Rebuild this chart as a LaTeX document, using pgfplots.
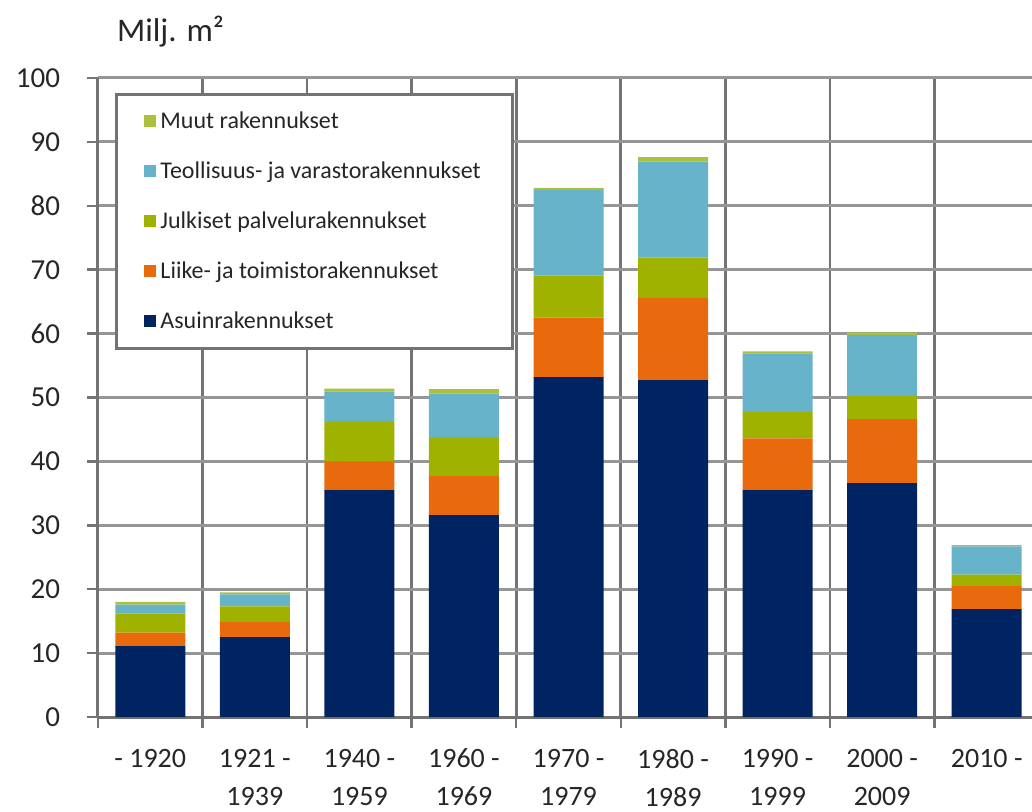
\documentclass[border=0pt]{standalone}
\usepackage{pgfplots}
\pgfplotsset{compat=1.18}
\usepackage{fontspec}
\setmainfont{Carlito}
\definecolor{asuin}{RGB}{0,35,98}
\definecolor{liike}{RGB}{233,106,12}
\definecolor{julk}{RGB}{160,178,0}
\definecolor{teoll}{RGB}{103,179,202}
\definecolor{muut}{RGB}{172,192,60}
\definecolor{hgrid}{RGB}{150,150,150}
\definecolor{vgrid}{RGB}{115,115,115}
\begin{document}
\begin{tikzpicture}
\useasboundingbox (-49bp,-47.5bp) rectangle (467bp,358.5bp);
\clip (-49bp,-47.5bp) rectangle (467bp,358.5bp);
\begin{axis}[
  scale only axis, width=470.5bp, height=319.5bp,
  xmin=-0.5, xmax=8.5, ymin=0, ymax=100,
  ybar stacked, bar width=35bp,
  axis x line*=bottom, axis y line*=left,
  axis line style={draw=vgrid, line width=1.5bp},
  xtick={-0.5,0.5,...,8.5}, xticklabels={},
  extra x ticks={0,1,2,3,4,5,6,7,8},
  extra x tick labels={{- 1920},{1921 -\\1939},{1940 -\\1959},{1960 -\\1969},{1970 -\\1979},{1980 -\\1989},{1990 -\\1999},{2000 -\\2009},{2010 -}},
  extra x tick style={major tick length=0pt, grid=none},
  ytick={0,10,...,100},
  tick align=outside, major tick length=5.5bp,
  tick style={draw=vgrid, line width=1.2bp},
  xmajorgrids, ymajorgrids,
  x grid style={draw=vgrid, line width=1.3bp},
  y grid style={draw=hgrid, line width=1.5bp},
  /pgf/number format/assume math mode=true,
  yticklabel style={font=\fontsize{14.5bp}{17bp}\selectfont, text=black!85, xshift=-10bp},
  xticklabel style={font=\fontsize{14bp}{19bp}\selectfont, text=black!85, align=center, yshift=-12.5bp},
  legend cell align=left,
  reverse legend,
  legend style={at={(axis description cs:0.018,0.9765)}, anchor=north west,
    draw=black!55, line width=1.5bp, fill=white,
    font=\fontsize{12bp}{14bp}\selectfont, text=black!85,
    inner xsep=14bp, inner ysep=6.5bp, row sep=11.2bp},
  every axis plot post/.append style={draw=none,
    legend image code/.code={\fill[##1] (0bp,-3bp) rectangle (6bp,3bp);}},
]
\addplot[fill=asuin] coordinates {(0,11.1) (1,12.5) (2,35.5) (3,31.6) (4,53.2) (5,52.7) (6,35.5) (7,36.6) (8,16.9)};
\addplot[fill=liike] coordinates {(0,2.1) (1,2.4) (2,4.5) (3,6.1) (4,9.3) (5,12.9) (6,8.1) (7,10.0) (8,3.6)};
\addplot[fill=julk] coordinates {(0,3.0) (1,2.4) (2,6.2) (3,6.0) (4,6.6) (5,6.3) (6,4.1) (7,3.6) (8,1.8)};
\addplot[fill=teoll] coordinates {(0,1.4) (1,1.9) (2,4.7) (3,6.9) (4,13.4) (5,15.0) (6,9.2) (7,9.6) (8,4.4)};
\addplot[fill=muut] coordinates {(0,0.4) (1,0.3) (2,0.5) (3,0.7) (4,0.3) (5,0.7) (6,0.3) (7,0.4) (8,0.2)};
\legend{Asuinrakennukset, Liike- ja toimistorakennukset, Julkiset palvelurakennukset, Teollisuus- ja varastorakennukset, Muut rakennukset}
\end{axis}
\node[anchor=base west, font=\fontsize{16.5bp}{19bp}\selectfont, text=black!85] at (6bp,337.5bp) {Milj. m²};
\end{tikzpicture}
\end{document}
